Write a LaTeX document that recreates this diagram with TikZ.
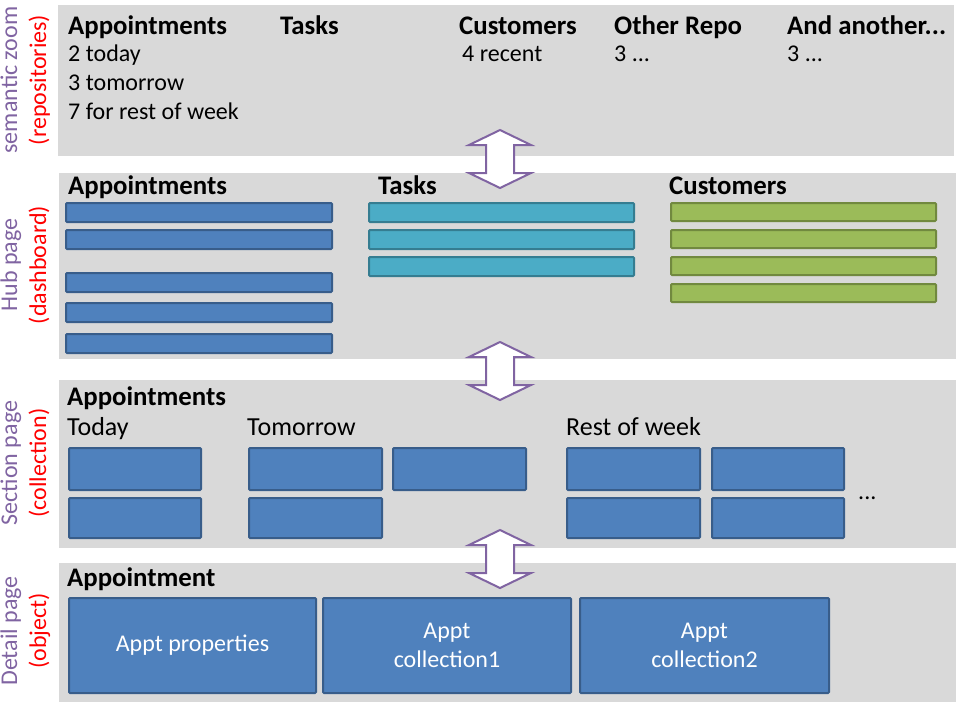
\documentclass[tikz,border=0pt]{standalone}
\usepackage{fontspec}
\setmainfont{Carlito}
\definecolor{panelgray}{HTML}{D9D9D9}
\definecolor{bfill}{HTML}{4F81BD}
\definecolor{bline}{HTML}{385D8A}
\definecolor{tfill}{HTML}{4BACC6}
\definecolor{tline}{HTML}{357D91}
\definecolor{gfill}{HTML}{9BBB59}
\definecolor{gline}{HTML}{71893F}
\definecolor{purp}{HTML}{8064A2}
\definecolor{labred}{HTML}{FF0000}
\begin{document}
\begin{tikzpicture}[x=1pt,y=-1pt,
  panel/.style={fill=panelgray, draw=none, anchor=north west, inner sep=0pt, outer sep=0pt},
  boxbase/.style={line width=2pt, rounded corners=1pt, anchor=north west, inner sep=0pt, outer sep=0pt},
  bbar/.style={boxbase, fill=bfill, draw=bline},
  tbar/.style={boxbase, fill=tfill, draw=tline},
  gbar/.style={boxbase, fill=gfill, draw=gline},
  hd/.style={anchor=base west, inner sep=0pt, font=\fontsize{26.8}{31}\selectfont\bfseries},
  tx/.style={anchor=base west, inner sep=0pt, font=\fontsize{24}{29}\selectfont},
  sx/.style={anchor=base west, inner sep=0pt, font=\fontsize{26}{31}\selectfont},
  wt/.style={text=white, font=\fontsize{24}{29}\selectfont, align=center, inner sep=0pt},
  labp/.style={anchor=base, rotate=90, inner sep=0pt, text=purp, font=\fontsize{24}{29}\selectfont},
  labr/.style={anchor=base, rotate=90, inner sep=0pt, text=labred, font=\fontsize{24}{29}\selectfont},
  arrowline/.style={draw=purp, fill=white, line width=2pt, line join=miter}
]
\useasboundingbox (0,0) rectangle (960,720);
\fill[white] (0,0) rectangle (960,720);

% panels
\node[panel, minimum width=896, minimum height=151] (p1) at (58,5) {};
\node[panel, minimum width=897, minimum height=186] (p2) at (59,173) {};
\node[panel, minimum width=897, minimum height=168] (p3) at (59,380) {};
\node[panel, minimum width=897, minimum height=139] (p4) at (59,563) {};

% left labels
\node[labp] (l1a) at (17,80) {semantic zoom};
\node[labr] (l1b) at (46,80) {(repositories)};
\node[labp] (l2a) at (17,265) {Hub page};
\node[labr] (l2b) at (46,265) {(dashboard)};
\node[labp] (l3a) at (17,463) {Section page};
\node[labr] (l3b) at (46,463) {(collection)};
\node[labp] (l4a) at (17,631) {Detail page};
\node[labr] (l4b) at (46,631) {(object)};

% panel 1: semantic zoom
\node[hd] (h1a) at (68,34) {Appointments};
\node[hd] (h1b) at (280,34) {Tasks};
\node[hd] (h1c) at (459,34) {Customers};
\node[hd] (h1d) at (614,34) {Other Repo};
\node[hd] (h1e) at (787,34) {And another...};
\node[tx] (t1a) at (68,61) {2 today};
\node[tx] (t1b) at (68,90) {3 tomorrow};
\node[tx] (t1c) at (68,119) {7 for rest of week};
\node[tx] (t1d) at (462,61) {4 recent};
\node[tx] (t1e) at (614,61) {3 ...};
\node[tx] (t1f) at (787,61) {3 ...};

% panel 2: hub page
\node[hd] (h2a) at (68,194) {Appointments};
\node[hd] (h2b) at (378,194) {Tasks};
\node[hd] (h2c) at (669,194) {Customers};
\foreach \y [count=\i] in {203,230,273,303,334}
  \node[bbar, minimum width=266, minimum height=19] (ab\i) at (66,\y) {};
\foreach \y [count=\i] in {203,230,257}
  \node[tbar, minimum width=265, minimum height=19] (tb\i) at (369,\y) {};
\foreach \y [count=\i] in {203,230,257,284}
  \node[gbar, minimum width=265, minimum height=18] (cb\i) at (671,\y) {};

% panel 3: section page
\node[hd] (h3a) at (67,405) {Appointments};
\node[sx] (s3a) at (67,435) {Today};
\node[sx] (s3b) at (247,435) {Tomorrow};
\node[sx] (s3c) at (566,435) {Rest of week};
\node[bbar, minimum width=132, minimum height=42] (sa1) at (69,448) {};
\node[bbar, minimum width=132, minimum height=40] (sa2) at (69,498) {};
\node[bbar, minimum width=133, minimum height=42] (sb1) at (249,448) {};
\node[bbar, minimum width=133, minimum height=42] (sb2) at (393,448) {};
\node[bbar, minimum width=133, minimum height=40] (sb3) at (249,498) {};
\node[bbar, minimum width=133, minimum height=42] (sc1) at (567,448) {};
\node[bbar, minimum width=132, minimum height=42] (sc2) at (712,448) {};
\node[bbar, minimum width=133, minimum height=40] (sc3) at (567,498) {};
\node[bbar, minimum width=132, minimum height=40] (sc4) at (712,498) {};
\node[tx] (dots) at (858,499) {...};

% panel 4: detail page
\node[hd] (h4a) at (67,586) {Appointment};
\node[bbar, minimum width=247, minimum height=95] (d1) at (69,598) {};
\node[bbar, minimum width=248, minimum height=95] (d2) at (323,598) {};
\node[bbar, minimum width=249, minimum height=95] (d3) at (580,598) {};
\node[wt] at (d1.center) {Appt properties};
\node[wt] at (d2.center) {Appt\\collection1};
\node[wt] at (d3.center) {Appt\\collection2};

% double arrows between panels
\foreach \cy [count=\k] in {159,371,559}{
  \coordinate (ar\k) at (500,\cy);
  \draw[arrowline] ([yshift=29pt]ar\k) -- ++(31,15) -- ++(-17,0) -- ++(0,28) -- ++(17,0)
    -- ++(-31,15) -- ++(-31,-15) -- ++(17,0) -- ++(0,-28) -- ++(-17,0) -- cycle;
}
\end{tikzpicture}
\end{document}
